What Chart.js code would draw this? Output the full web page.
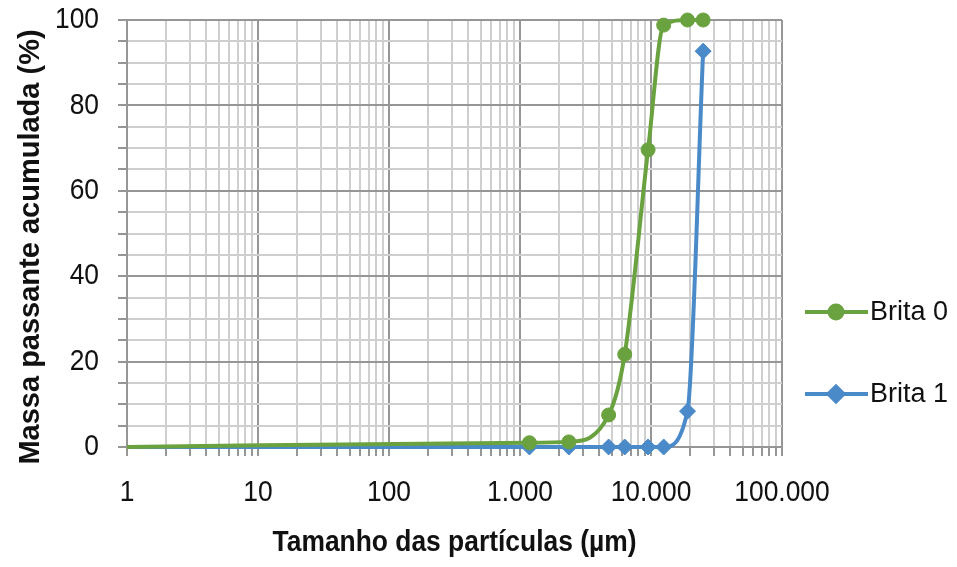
<!DOCTYPE html>
<html><head><meta charset="utf-8">
<script src="https://cdn.jsdelivr.net/npm/chart.js@4"></script>
<style>html,body{margin:0;padding:0;background:#fff}</style>
</head><body>
<canvas id="c" width="957" height="567"></canvas>
<script>
// ---- data ----
const particleSizes = [1, 1180, 2360, 4750, 6300, 9500, 12500, 19000, 25000];
const brita0 = [0, 1.0, 1.2, 7.5, 21.7, 69.6, 98.8, 100, 100];
const brita1 = [0, 0, 0, 0, 0, 0, 0, 8.4, 92.7];
const seriesNames = ['Brita 0', 'Brita 1'];
const xMajorTicks = [1, 10, 100, 1000, 10000, 100000];
const xTickLabels = ['1', '10', '100', '1.000', '10.000', '100.000'];
const yMajorTicks = [0, 20, 40, 60, 80, 100];
const yTickLabels = ['0', '20', '40', '60', '80', '100'];
const xTitle = 'Tamanho das partículas (µm)';
const yTitle = 'Massa passante acumulada (%)';

const GREEN = '#6aa23f';
const BLUE = '#4a8ac8';
const MAJOR = '#969696';
const MINOR = '#cfcfcf';
const FONT = "'Liberation Sans', Arial, sans-serif";
const TEXT_SQUEEZE = 0.88;   // condensed look for axis texts

const canvas = document.getElementById('c');
const ctx2d = canvas.getContext('2d');
const rawFillText = ctx2d.fillText;
ctx2d.fillText = function (text, x, y, maxWidth) {
  this.save();
  this.translate(x, y);
  this.scale(TEXT_SQUEEZE, 1);
  if (maxWidth === undefined) rawFillText.call(this, text, 0, 0);
  else rawFillText.call(this, text, 0, 0, maxWidth / TEXT_SQUEEZE);
  this.restore();
};

const allXTicks = [];
for (let d = 0; d < xMajorTicks.length; d++) {
  const base = xMajorTicks[d];
  allXTicks.push(base);
  if (d < xMajorTicks.length - 1) for (let m = 2; m <= 9; m++) allXTicks.push(base * m);
}
const majorIndexX = v => xMajorTicks.findIndex(t => Math.abs(t - v) < 1e-9 * t);

const toPoints = ys => particleSizes.map((x, i) => ({x, y: ys[i]}));

const extras = {
  id: 'extras',
  afterDraw(chart) {
    const {ctx, chartArea} = chart;
    // y axis title
    ctx.save();
    ctx.translate(chartArea.left - 96, chartArea.top + 227);
    ctx.rotate(-Math.PI / 2);
    ctx.fillStyle = '#111';
    ctx.font = 'bold 29px ' + FONT;
    ctx.textAlign = 'center';
    ctx.textBaseline = 'middle';
    rawFillText.call(ctx, yTitle, 0, 0, 436);
    ctx.restore();
    // legend
    const x0 = chartArea.right + 23;
    chart.data.datasets.forEach((ds, i) => {
      const y = chartArea.top + 292 + i * 82;
      ctx.save();
      ctx.strokeStyle = ds.borderColor;
      ctx.lineWidth = 4;
      ctx.beginPath(); ctx.moveTo(x0, y); ctx.lineTo(x0 + 63, y); ctx.stroke();
      ctx.fillStyle = ds.backgroundColor;
      ctx.strokeStyle = ds.borderColor;
      Chart.helpers.drawPoint(ctx, {pointStyle: ds.pointStyle, radius: ds.legendRadius, rotation: 0, borderWidth: 1}, x0 + 31, y);
      ctx.fillStyle = '#111';
      ctx.font = '27px ' + FONT;
      ctx.textBaseline = 'middle';
      ctx.textAlign = 'left';
      rawFillText.call(ctx, ds.label, x0 + 65, y + 1);
      ctx.restore();
    });
  }
};

new Chart(canvas, {
  type: 'line',
  data: {
    datasets: [
      {label: seriesNames[0], data: toPoints(brita0), borderColor: GREEN, backgroundColor: GREEN,
       borderWidth: 4, pointStyle: 'circle', legendRadius: 6.5,
       pointRadius: c => c.dataIndex === 0 ? 0 : 7, pointBorderWidth: 1,
       cubicInterpolationMode: 'monotone', clip: false},
      {label: seriesNames[1], data: toPoints(brita1), borderColor: BLUE, backgroundColor: BLUE,
       borderWidth: 4, pointStyle: 'rectRot', legendRadius: 7.5,
       pointRadius: c => c.dataIndex === 0 ? 0 : 8, pointBorderWidth: 1,
       cubicInterpolationMode: 'monotone', clip: false}
    ]
  },
  options: {
    responsive: false,
    animation: false,
    layout: {padding: {top: 20, right: 175, left: 0, bottom: 0}},
    plugins: {legend: {display: false}, tooltip: {enabled: false}},
    scales: {
      x: {
        type: 'logarithmic', min: 1, max: 100000,
        afterBuildTicks: s => { s.ticks = allXTicks.map(v => ({value: v})); },
        afterFit: s => { s.height = 120; s.paddingLeft = 0; s.paddingRight = 0; },
        grid: {color: c => majorIndexX(c.tick.value) >= 0 ? MAJOR : MINOR, lineWidth: 2,
               tickLength: 9, tickColor: MAJOR, tickWidth: 2},
        border: {color: MAJOR, width: 2},
        ticks: {autoSkip: false, maxRotation: 0, padding: 19, color: '#111',
                font: {family: FONT, size: 30},
                callback: v => { const i = majorIndexX(v); return i >= 0 ? xTickLabels[i] : ''; }},
        title: {display: true, text: xTitle, color: '#111', padding: {top: 0, bottom: 6},
                font: {family: FONT, size: 30, weight: 'bold'}}
      },
      y: {
        min: 0, max: 100,
        afterFit: s => { s.width = 127; s.paddingTop = 0; s.paddingBottom = 0; },
        grid: {color: c => c.tick.value % 20 === 0 ? MAJOR : MINOR, lineWidth: 2,
               tickLength: 9, tickColor: MAJOR, tickWidth: 2},
        border: {color: MAJOR, width: 2},
        ticks: {stepSize: 5, autoSkip: false, padding: 19, color: '#111',
                font: {family: FONT, size: 30},
                callback: v => { const i = yMajorTicks.indexOf(v); return i >= 0 ? yTickLabels[i] : ''; }},
        title: {display: false}
      }
    }
  },
  plugins: [extras]
});
</script>
</body></html>
